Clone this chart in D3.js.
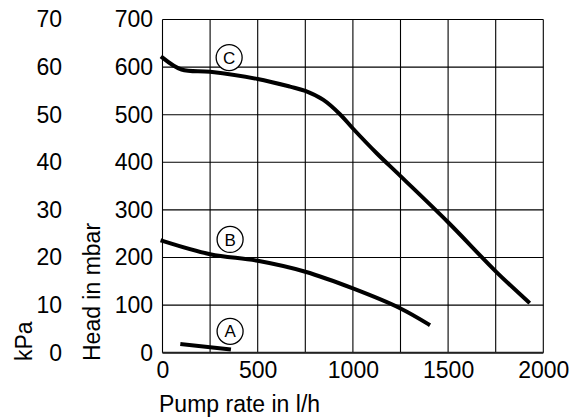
<!DOCTYPE html>
<html><head><meta charset="utf-8">
<script src="https://cdn.jsdelivr.net/npm/d3@7"></script>
<style>body{margin:0;background:#fff}svg{display:block}text{font-family:"Liberation Sans",Arial,sans-serif;fill:#000}</style>
</head><body>
<svg id="c" width="571" height="419"></svg>
<script>
const xTicks = [0, 500, 1000, 1500, 2000];
const xGrid = [0, 250, 500, 750, 1000, 1250, 1500, 1750, 2000];
const mbarTicks = [0, 100, 200, 300, 400, 500, 600, 700];
const kpaTicks = [0, 10, 20, 30, 40, 50, 60, 70];
const curveA = [[104, 18], [349, 7]];
const curveB = [[0, 235], [250, 207], [500, 193], [750, 170], [1000, 135], [1250, 93], [1396, 60]];
const curveC = [[0, 620], [100, 595], [250, 590], [500, 575], [670, 559], [750, 550], [845, 531], [932, 501], [1000, 471], [1125, 419], [1250, 371], [1500, 274], [1750, 171], [1921, 107]];
const labels = [
  {t: "A", x: 355, y: 45},
  {t: "B", x: 355, y: 238},
  {t: "C", x: 350, y: 620}
];

const svg = d3.select("#c");
const L = 162.5, T = 19.5, W = 380.8, H = 333.2;
const x = d3.scaleLinear().domain([0, 2000]).range([L, L + W]);
const y = d3.scaleLinear().domain([0, 700]).range([T + H, T]);
const yk = d3.scaleLinear().domain([0, 70]).range([T + H, T]);

const g = svg.append("g");
g.selectAll(".vg").data(xGrid).join("line")
  .attr("x1", d => x(d)).attr("x2", d => x(d)).attr("y1", T).attr("y2", T + H)
  .attr("stroke", "#000").attr("stroke-width", 1.1);
g.selectAll(".hg").data(mbarTicks).join("line")
  .attr("y1", d => y(d)).attr("y2", d => y(d)).attr("x1", L).attr("x2", L + W)
  .attr("stroke", "#000").attr("stroke-width", 1.1);
g.append("line").attr("x1", L).attr("x2", L + W).attr("y1", T + H).attr("y2", T + H)
  .attr("stroke", "#222").attr("stroke-width", 2);

const fs = "23px";
const ax = svg.append("g").attr("transform", `translate(0,${T + H})`)
  .call(d3.axisBottom(x).tickValues(xTicks).tickSize(0).tickPadding(9).tickFormat(d3.format("d")));
ax.select(".domain").remove();
ax.selectAll("text").style("font-size", fs).attr("font-family", "Liberation Sans, Arial, sans-serif");

const ay = svg.append("g").attr("transform", `translate(153,0)`)
  .call(d3.axisLeft(y).tickValues(mbarTicks).tickSize(0).tickPadding(0).tickFormat(d3.format("d")));
ay.select(".domain").remove();
ay.selectAll("text").style("font-size", fs).attr("font-family", "Liberation Sans, Arial, sans-serif");

const ak = svg.append("g").attr("transform", `translate(62,0)`)
  .call(d3.axisLeft(yk).tickValues(kpaTicks).tickSize(0).tickPadding(0).tickFormat(d3.format("d")));
ak.select(".domain").remove();
ak.selectAll("text").style("font-size", fs).attr("font-family", "Liberation Sans, Arial, sans-serif");

svg.append("text").attr("x", 159).attr("y", 411.5).style("font-size", fs).text("Pump rate in l/h");
svg.append("text").attr("transform", "translate(99.5,361) rotate(-90)").style("font-size", fs).text("Head in mbar");
svg.append("text").attr("transform", "translate(31.5,361) rotate(-90)").style("font-size", fs).text("kPa");

const line = d3.line().x(d => x(d[0])).y(d => y(d[1])).curve(d3.curveCatmullRom.alpha(0.5));
[curveA, curveB, curveC].forEach(c => {
  svg.append("path").attr("d", line(c)).attr("fill", "none").attr("stroke", "#000")
    .attr("stroke-width", 4).attr("stroke-linecap", "square");
});

const lg = svg.selectAll(".lab").data(labels).join("g")
  .attr("transform", d => `translate(${x(d.x)},${y(d.y)})`);
lg.append("circle").attr("r", 13).attr("fill", "#fff").attr("stroke", "#000").attr("stroke-width", 1.3);
lg.append("text").attr("text-anchor", "middle").attr("dy", "0.36em").style("font-size", "17px").text(d => d.t);
</script>
</body></html>
